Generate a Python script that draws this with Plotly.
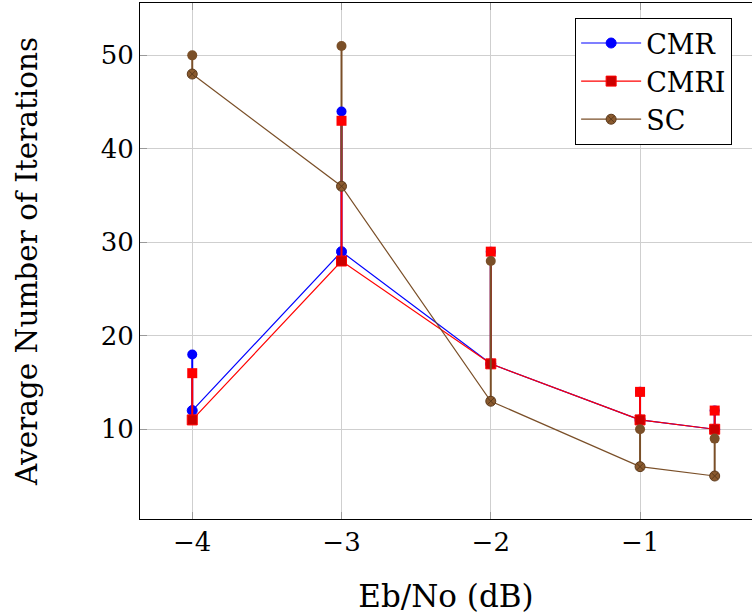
import plotly.graph_objects as go

# Eb/No operating points (dB)
ebno = [-4, -3, -2, -1, -0.5]

# Average iteration counts and the upper extent (max) for each decoder
cmr_avg = [12, 29, 17, 11, 10]
cmr_max = [18, 44, 29, 14, 12]
cmri_avg = [11, 28, 17, 11, 10]
cmri_max = [16, 43, 29, 14, 12]
sc_avg = [48, 36, 13, 6, 5]
sc_max = [50, 51, 28, 10, 9]

y_ticks = [10, 20, 30, 40, 50]
x_ticks = [-4, -3, -2, -1]

FONT = "DejaVu Serif"
BLUE = "#0000ff"
RED = "#ff0000"
RED_DARK = "#cc0000"
BROWN = "#7a4f28"
BROWN_DARK = "#5c3a1c"

series = [
    dict(name="CMR", avg=cmr_avg, mx=cmr_max, line=BLUE, fill=BLUE, edge=BLUE,
         sym="circle", top_fill=BLUE, top_sym="circle", size=10),
    dict(name="CMRI", avg=cmri_avg, mx=cmri_max, line=RED, fill=RED_DARK, edge=RED,
         sym="square", top_fill=RED, top_sym="square", size=10),
    dict(name="SC", avg=sc_avg, mx=sc_max, line=BROWN, fill="#8a5a2e", edge=BROWN_DARK,
         sym="circle-x", top_fill=BROWN, top_sym="circle", size=10),
]

fig = go.Figure()

for s in series:
    err_up = [m - a for m, a in zip(s["mx"], s["avg"])]
    fig.add_trace(go.Scatter(
        x=ebno, y=s["avg"], name=s["name"], mode="lines+markers",
        line=dict(color=s["line"], width=1.2),
        marker=dict(symbol=s["sym"], size=s["size"], color=s["fill"],
                    line=dict(color=s["edge"], width=1)),
        error_y=dict(type="data", symmetric=False, array=err_up,
                     arrayminus=[0] * len(err_up), color=s["line"],
                     thickness=2, width=0),
    ))

# markers at the top end of each bar
for s in series:
    fig.add_trace(go.Scatter(
        x=ebno, y=s["mx"], mode="markers", showlegend=False, hoverinfo="skip",
        marker=dict(symbol=s["top_sym"], size=s["size"], color=s["top_fill"],
                    line=dict(width=0)),
    ))

fig.update_layout(
    width=752, height=616,
    margin=dict(l=140, r=0, t=3, b=97),
    paper_bgcolor="white", plot_bgcolor="white",
    font=dict(family=FONT, size=26, color="black"),
    showlegend=True,
    legend=dict(
        x=0.711, y=0.971, xanchor="left", yanchor="top",
        bgcolor="white", bordercolor="black", borderwidth=1,
        font=dict(family=FONT, size=27),
        itemwidth=60, tracegroupgap=0,
    ),
    xaxis=dict(
        range=[-4.35, -0.25], tickvals=x_ticks,
        showgrid=True, gridcolor="#cfcfcf", gridwidth=1,
        showline=True, linecolor="black", linewidth=1, mirror="ticks",
        ticks="inside", ticklen=7, tickcolor="#9a9a9a",
        zeroline=False,
        title=dict(text="Eb/No (dB)", font=dict(family=FONT, size=31), standoff=29),
        tickfont=dict(family=FONT, size=26),
    ),
    yaxis=dict(
        range=[0.4, 55.6], tickvals=y_ticks,
        showgrid=True, gridcolor="#cfcfcf", gridwidth=1,
        showline=True, linecolor="black", linewidth=1, mirror=False,
        ticks="inside", ticklen=7, tickcolor="#9a9a9a",
        zeroline=False,
        title=dict(text="Average Number of Iterations", font=dict(family=FONT, size=29.5), standoff=54),
        tickfont=dict(family=FONT, size=26),
    ),
)

fig.write_html("out.html")
